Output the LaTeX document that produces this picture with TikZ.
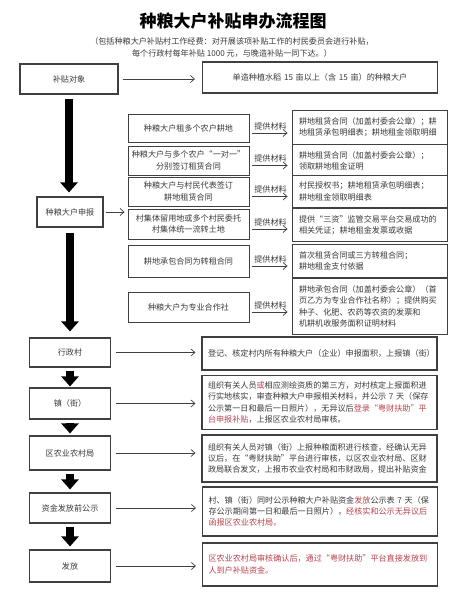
\documentclass[tikz,border=0pt]{standalone}
\usepackage{fontspec}
\setmainfont{Noto Sans CJK SC}
\usetikzlibrary{arrows.meta, positioning}
\definecolor{ink}{HTML}{3A3A3A}
\definecolor{frame}{HTML}{404040}
\definecolor{hilite}{HTML}{B8434F}
\newcommand{\hl}[1]{\textcolor{hilite}{#1}}
\newcommand{\txt}{\fontsize{8.1}{11.3}\selectfont}

\begin{document}
\begin{tikzpicture}[x=1pt, y=-1pt,
    stage/.style={rectangle, draw=frame, line width=1.1pt, fill=white, minimum width=81pt, minimum height=30pt, inner sep=2pt, font=\txt, text=ink},
    detail/.style={rectangle, draw=frame, line width=1.1pt, fill=white, minimum width=235pt, text width=223pt, inner sep=6pt, align=left, font=\txt, text=ink},
    option/.style={rectangle, draw=frame, line width=0.9pt, fill=white, minimum width=121pt, minimum height=29pt, inner sep=2pt, align=center, font=\txt, text=ink},
    material/.style={rectangle, draw=frame, line width=0.9pt, fill=white, minimum width=155pt, text width=141pt, inner sep=7pt, align=left, font=\txt, text=ink},
    flow/.style={-{Triangle[width=17pt,length=10pt]}, line width=7.5pt, black, shorten <=3pt, shorten >=3pt},
    link/.style={-{Straight Barb[length=4pt,width=7pt]}, draw=frame, line width=0.7pt},
    tag/.style={font=\txt, text=ink, inner sep=1pt}
]
\path[fill=white] (0,0) rectangle (465,600);

% Title
\node[font=\fontsize{17}{20}\selectfont\bfseries, text=black] (title) at (233,21) {种粮大户补贴申办流程图};
\node[tag, align=center] (note) at (232,47.5) {（包括种粮大户补贴村工作经费：对开展该项补贴工作的村民委员会进行补贴，\\每个行政村每年补贴 1000 元，与晚造补贴一同下达。）};

% Subsidy target
\node[stage, minimum width=98pt] (target) at (69,79) {补贴对象};
\node[detail, align=center, minimum height=31pt] (targetR) at (320,77.5) {单造种植水稻 15 亩以上（含 15 亩）的种粮大户};

% Application
\node[stage, minimum width=66pt] (apply) at (70,212) {种粮大户申报};

% Ways of renting land
\node[option, minimum height=28pt] (opt1) at (188.5,128) {种粮大户租多个农户耕地};
\node[option] (opt2) at (188.5,160.5) {种粮大户与多个农户“一对一”\\分别签订租赁合同};
\node[option] (opt3) at (188.5,191.5) {种粮大户与村民代表签订\\耕地租赁合同};
\node[option, minimum height=30pt] (opt4) at (188.5,224) {村集体留用地或多个村民委托\\村集体统一流转土地};
\node[option, minimum height=32pt] (opt5) at (188.5,261) {耕地承包合同为转租合同};
\node[option, minimum height=30pt] (opt6) at (188.5,307) {种粮大户为专业合作社};

% Materials
\node[material, minimum height=31pt] (mat1) at (369.5,127.5) {耕地租赁合同（加盖村委会公章）；耕\\地租赁承包明细表；耕地租金领取明细};
\node[material, minimum height=30pt] (mat2) at (369.5,161) {耕地租赁合同（加盖村委会公章）；\\领取耕地租金证明};
\node[material, minimum height=29pt] (mat3) at (369.5,191.5) {村民授权书；耕地租赁承包明细表；\\耕地租金领取明细表};
\node[material, minimum height=32pt] (mat4) at (369.5,225) {提供“三资”监管交易平台交易成功的\\相关凭证；耕地租金发票或收据};
\node[material, minimum height=32pt] (mat5) at (369.5,261) {首次租赁合同或三方转租合同；\\耕地租金支付依据};
\node[material, minimum height=53pt] (mat6) at (369.5,306.5) {耕地承包合同（加盖村委会公章）（首\\页乙方为专业合作社名称）；提供购买\\种子、化肥、农药等农资的发票和\\机耕机收服务面积证明材料};

% Approval stages
\node[stage, minimum height=29pt] (village) at (70,352.5) {行政村};
\node[detail, minimum height=33pt] (villageR) at (319.5,353.5) {登记、核定村内所有种粮大户（企业）申报面积，上报镇（街）};
\node[stage, minimum height=31pt] (town) at (70,403.5) {镇（街）};
\node[detail, minimum height=53pt] (townR) at (319.5,402.5) {组织有关人员\hl{或}相应测绘资质的第三方，对村核定上报面积进\\行实地核实，审查种粮大户申报相关材料，并公示 7 天（保存\\公示第一日和最后一日照片），无异议后\hl{登录“粤财扶助”平}\\\hl{台申报补贴}，上报区农业农村局审核。};
\node[stage, minimum height=34pt] (bureau) at (70,453) {区农业农村局};
\node[detail, minimum height=47pt] (bureauR) at (319.5,458.5) {组织有关人员对镇（街）上报种粮面积进行核查，经确认无异\\议后，在“粤财扶助”平台进行审核，以区农业农村局、区财\\政局联合发文，上报市农业农村局和市财政局，提出补贴资金};
\node[stage, minimum height=30pt] (notice) at (70,508) {资金发放前公示};
\node[detail, minimum height=49pt] (noticeR) at (320,511.5) {村、镇（街）同时公示种粮大户补贴资金\hl{发放}公示表 7 天（保\\存公示期间第一日和最后一日照片），\hl{经核实和公示无异议后}\\\hl{函报区农业农村局。}};
\node[stage, minimum height=32pt] (pay) at (70,566) {发放};
\node[detail, minimum height=43pt, text=hilite] (payR) at (320,564.5) {区农业农村局审核确认后，通过“粤财扶助”平台直接发放到\\人到户补贴资金。};

% Main flow
\draw[flow, shorten <=4pt, shorten >=4pt] (target.south) -- (target.south |- apply.north);
\draw[flow, shorten <=5pt, shorten >=6pt] (apply.south) -- (village.north);
\draw[flow, shorten >=1pt] (village) -- (town);
\draw[flow, shorten >=2pt] (town) -- (bureau);
\draw[flow] (bureau) -- (notice);
\draw[flow] (notice) -- (pay);

% Side links
\draw[link, shorten <=4pt, shorten >=7pt] (target.east) -- (target.east -| targetR.west);
\draw[link, shorten <=2pt, shorten >=3pt] (apply.east) -- (apply.east -| opt4.west);
\foreach \i in {1,...,6}
  \draw[link, shorten <=3pt, shorten >=4pt] ([yshift=-5pt]opt\i.east) -- node[tag, above=2pt] {提供材料} ([yshift=-5pt]opt\i.east -| mat\i.west);
\foreach \s in {village, town, bureau, notice, pay}
  \draw[link, shorten <=5pt, shorten >=6pt] (\s.east) -- (\s.east -| \s R.west);

\end{tikzpicture}
\end{document}
